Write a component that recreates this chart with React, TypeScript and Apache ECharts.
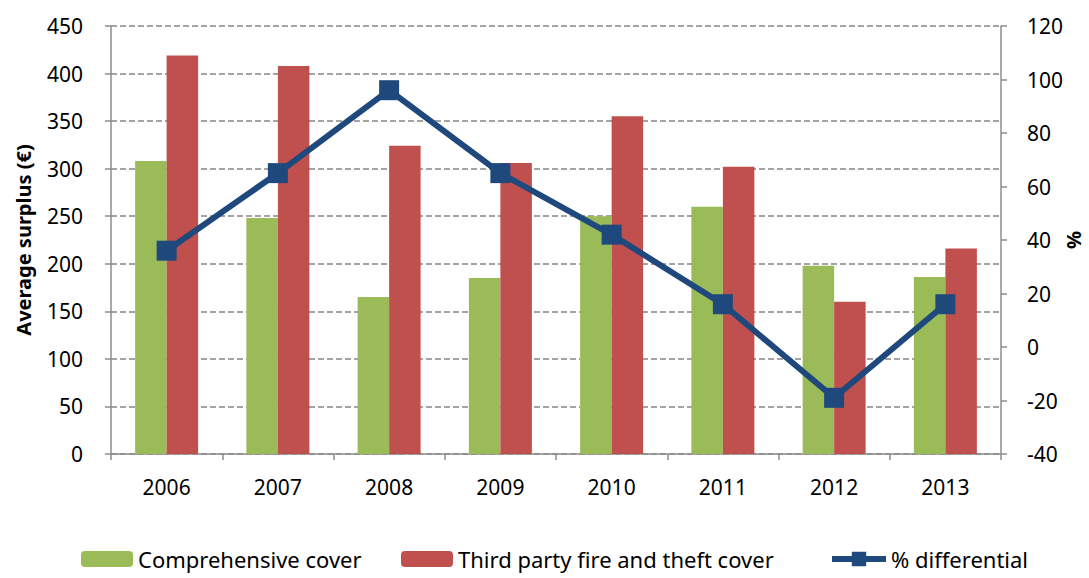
import React, { useEffect, useRef } from "react";
import * as echarts from "echarts";

const years = ["2006", "2007", "2008", "2009", "2010", "2011", "2012", "2013"];
const comprehensive = [308, 248, 165, 185, 250, 260, 198, 186];
const thirdParty = [419, 408, 324, 306, 355, 302, 160, 216];
const differential = [36, 65, 96, 65, 42, 16, -19, 16];

const FONT = "Noto Sans";

export default function App() {
  const ref = useRef<HTMLDivElement>(null);
  useEffect(() => {
    const chart = echarts.init(ref.current!, null, { renderer: "svg" });
    const legendBase = {
      bottom: 3,
      itemWidth: 52,
      itemHeight: 16,
      textStyle: { fontFamily: FONT, fontSize: 22, color: "#000" },
      itemGap: 0,
    };
    chart.setOption({
      animation: false,
      backgroundColor: "#fff",
      grid: { left: 111, right: 88, top: 26, bottom: 124, outerBoundsMode: "none", containLabel: false },
      legend: [
        { ...legendBase, left: 76, data: ["Comprehensive cover"] },
        { ...legendBase, left: 396, data: ["Third party fire and theft cover"] },
        {
          ...legendBase,
          left: 824,
          itemWidth: 54,
          itemHeight: 18,
          lineStyle: { width: 6 },
          data: ["% differential"],
        },
      ],
      graphic: [
        {
          type: "text",
          x: 1073,
          y: 240,
          rotation: Math.PI / 2,
          style: {
            text: "%",
            font: `bold 20px "${FONT}"`,
            fill: "#000",
            align: "center",
            verticalAlign: "middle",
          },
        },
      ],
      xAxis: {
        type: "category",
        data: years,
        axisLine: { lineStyle: { color: "#8c8c8c", width: 1.5 } },
        axisTick: { show: true, length: 6, lineStyle: { color: "#8c8c8c", width: 1.5 } },
        axisLabel: { fontFamily: FONT, fontSize: 21, color: "#000", margin: 22 },
      },
      yAxis: [
        {
          type: "value",
          min: 0,
          max: 450,
          interval: 50,
          name: "Average surplus (€)",
          nameLocation: "middle",
          nameGap: 78,
          nameTextStyle: { fontFamily: FONT, fontSize: 20, fontWeight: "bold", color: "#000" },
          axisLine: { show: true, lineStyle: { color: "#8c8c8c", width: 1.5 } },
          axisTick: { show: true, length: 6, lineStyle: { color: "#8c8c8c", width: 1.5 } },
          axisLabel: { fontFamily: FONT, fontSize: 21, color: "#000", margin: 28 },
          splitLine: { lineStyle: { color: "#868686", width: 1.5, type: [6, 3] } },
        },
        {
          type: "value",
          min: -40,
          max: 120,
          interval: 20,
          axisLine: { show: true, lineStyle: { color: "#8c8c8c", width: 1.5 } },
          axisTick: { show: true, length: 6, lineStyle: { color: "#8c8c8c", width: 1.5 } },
          axisLabel: { fontFamily: FONT, fontSize: 21, color: "#000", margin: 26 },
          splitLine: { show: false },
        },
      ],
      series: [
        {
          name: "Comprehensive cover",
          type: "bar",
          data: comprehensive,
          barWidth: 31.5,
          barGap: "0%",
          itemStyle: { color: "#9BBB59" },
        },
        {
          name: "Third party fire and theft cover",
          type: "bar",
          data: thirdParty,
          barWidth: 31.5,
          barGap: "0%",
          itemStyle: { color: "#C0504D" },
        },
        {
          name: "% differential",
          type: "line",
          yAxisIndex: 1,
          data: differential,
          symbol: "rect",
          symbolSize: 20,
          lineStyle: { color: "#1F497D", width: 6 },
          itemStyle: { color: "#1F497D" },
        },
      ],
    });
    return () => chart.dispose();
  }, []);
  return <div ref={ref} style={{ width: 1089, height: 578, position: "absolute", left: 0, top: 0 }} />;
}
